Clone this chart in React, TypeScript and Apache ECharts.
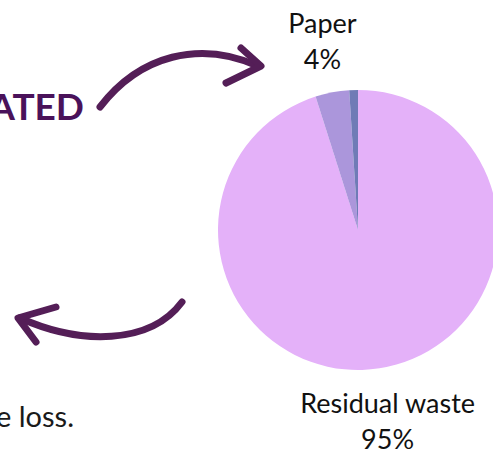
import React, { useEffect, useRef } from "react";
import * as echarts from "echarts";

const categories = ["Residual waste", "Paper", "Other"];
const values = [95.1, 3.9, 1.0];
const colors = ["#e4b1f9", "#ab96db", "#6f7bb6"];
const labelled = [true, true, false];

export default function App() {
  const ref = useRef<HTMLDivElement>(null);
  useEffect(() => {
    if (!ref.current) return;
    const chart = echarts.init(ref.current, undefined, { renderer: "svg" });
    const center = [358, 230];
    const font = "Lato, 'Open Sans', sans-serif";
    const purple = "#541e57";
    chart.setOption({
      animation: false,
      backgroundColor: "#ffffff",
      series: [
        {
          type: "pie",
          center,
          radius: [0, 140],
          startAngle: 90,
          clockwise: true,
          silent: true,
          percentPrecision: 0,
          label: { show: false },
          labelLine: { show: false },
          data: categories.map((n, i) => ({
            name: n,
            value: values[i],
            itemStyle: { color: colors[i] },
          })),
        },
        {
          type: "pie",
          center,
          radius: [0, 380],
          startAngle: 90,
          clockwise: true,
          silent: true,
          percentPrecision: 0,
          itemStyle: { color: "rgba(0,0,0,0)" },
          label: {
            show: true,
            position: "inside",
            formatter: "{b}\n{d}%",
            fontFamily: font,
            fontSize: 27,
            lineHeight: 36,
            color: "#111111",
          },
          labelLine: { show: false },
          data: categories.map((n, i) => ({
            name: n,
            value: values[i],
            label: { show: labelled[i] },
          })),
        },
      ],
      graphic: [
        {
          type: "text",
          x: 84,
          y: 105,
          style: {
            text: "ATED",
            align: "right",
            verticalAlign: "middle",
            font: "bold 37px Lato, sans-serif",
            fill: "#4a125a",
          },
        },
        {
          type: "text",
          x: 74,
          y: 415,
          style: {
            text: "e loss.",
            align: "right",
            verticalAlign: "middle",
            font: "29px Lato, sans-serif",
            fill: "#1a1a1a",
          },
        },
        {
          type: "bezierCurve",
          shape: { x1: 100, y1: 107, cpx1: 140, cpy1: 55, cpx2: 200, cpy2: 40, x2: 258, y2: 66 },
          style: { stroke: purple, lineWidth: 7, lineCap: "round", fill: "none" },
        },
        {
          type: "polyline",
          shape: { points: [[241, 48], [261, 66], [226, 83]] },
          style: { stroke: purple, lineWidth: 7, lineCap: "round", lineJoin: "round", fill: "none" },
        },
        {
          type: "bezierCurve",
          shape: { x1: 182, y1: 302, cpx1: 150, cpy1: 345, cpx2: 80, cpy2: 345, x2: 20, y2: 318 },
          style: { stroke: purple, lineWidth: 7, lineCap: "round", fill: "none" },
        },
        {
          type: "polyline",
          shape: { points: [[56, 307], [18, 318], [36, 342]] },
          style: { stroke: purple, lineWidth: 7, lineCap: "round", lineJoin: "round", fill: "none" },
        },
      ],
    });
    return () => chart.dispose();
  }, []);
  return (
    <div
      ref={ref}
      style={{ position: "fixed", left: 0, top: 0, width: 493, height: 450 }}
    />
  );
}
